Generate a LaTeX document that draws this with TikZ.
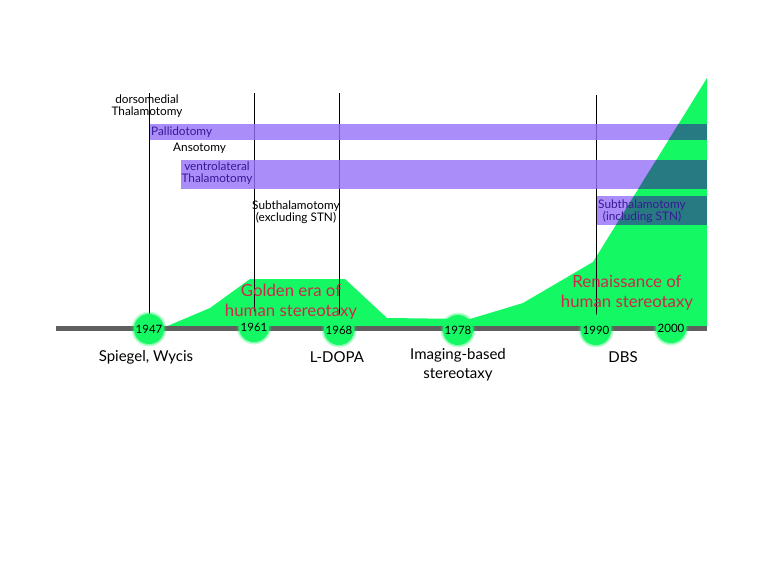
\documentclass[tikz,border=0pt]{standalone}
\usepackage{fontspec}
\setmainfont{Lato}
\usetikzlibrary{backgrounds}
\pgfdeclarelayer{lbg}
\pgfdeclarelayer{llines}
\pgfdeclarelayer{lbars}
\pgfsetlayers{lbg,llines,lbars,main}
\definecolor{grn}{RGB}{20,248,100}
\definecolor{purpbase}{RGB}{150,112,249}
\definecolor{tealc}{RGB}{40,122,130}
\definecolor{redt}{RGB}{205,40,75}
\definecolor{bartext}{RGB}{55,25,150}
\definecolor{axisgray}{RGB}{95,95,95}
\tikzset{
  yearcirc/.style={circle,fill=grn,minimum size=30pt,inner sep=0pt,font=\fontsize{11.5}{11.5}\selectfont},
  smalltxt/.style={font=\fontsize{11.8}{12.5}\selectfont,align=center,inner sep=0pt},
  bartxt/.style={smalltxt,text=bartext},
  bigtxt/.style={font=\fontsize{15}{19}\selectfont,align=center,inner sep=0pt},
  redtxt/.style={font=\fontsize{16.8}{20}\selectfont,align=center,inner sep=0pt,text=redt},
  vline/.style={black,line width=1pt},
  barfill/.style={fill=purpbase,fill opacity=0.8}
}
\begin{document}
\begin{tikzpicture}[x=1pt,y=-1pt]
\useasboundingbox (0,0) rectangle (779,584);
% green area
\begin{pgfonlayer}{lbg}
\fill[grn] (165,327) -- (210,308) -- (250,279) -- (345,279) -- (387,318) -- (470,319) -- (523,303) -- (593,262) -- (707,78) -- (707,327) -- cycle;
\end{pgfonlayer}
% bars
\begin{pgfonlayer}{lbars}
\fill[barfill] (150,124) rectangle (707,140);
\fill[barfill] (181,160) rectangle (707,189);
\fill[barfill] (597,196) rectangle (707,225);
\begin{scope}
\clip (165,327) -- (210,308) -- (250,279) -- (345,279) -- (387,318) -- (470,319) -- (523,303) -- (593,262) -- (707,78) -- (707,327) -- cycle;
\fill[tealc] (150,124) rectangle (707,140);
\fill[tealc] (181,160) rectangle (707,189);
\fill[tealc] (597,196) rectangle (707,225);
\end{scope}
\draw[axisgray,line width=5pt] (56,328) -- (707,328);
\end{pgfonlayer}
% year circles
\foreach \n/\x/\y in {1947/149/329,1961/254/327,1968/339/330,1978/458/330,1990/596/330,2000/671/328}{
  \fill[grn,opacity=0.25] (\x,\y) circle (17.5pt);
  \fill[grn,opacity=0.35] (\x,\y) circle (16.2pt);
  \node[yearcirc] (c\n) at (\x,\y) {\n};
}
\coordinate (t1947) at (149,93);
\coordinate (t1961) at (254,93);
\coordinate (t1968) at (339,93);
\coordinate (t1990) at (596,95);
\begin{pgfonlayer}{llines}
\draw[vline] (t1947) -- (c1947.center);
\draw[vline] (t1961) -- (c1961.center);
\draw[vline] (t1968) -- (c1968.center);
\draw[vline] (t1990) -- (c1990.center);
\end{pgfonlayer}
% labels
\node[smalltxt] (dors) at (147,106) {dorsomedial\\Thalamotomy};
\node[bartxt,anchor=west] (pall) at (151,132.5) {Pallidotomy};
\node[smalltxt,anchor=west] (anso) at (173,148) {Ansotomy};
\node[bartxt] (vent) at (217,173) {ventrolateral\\Thalamotomy};
\node[smalltxt] (subex) at (296,212) {Subthalamotomy\\(excluding STN)};
\node[bartxt] (subin) at (642,211) {Subthalamotomy\\(including STN)};
\node[redtxt] (golden) at (291,302) {Golden era of\\human stereotaxy};
\node[redtxt] (renai) at (627,293) {Renaissance of\\human stereotaxy};
\node[bigtxt] (spw) at (146,357) {Spiegel, Wycis};
\node[bigtxt] (ldopa) at (337,357) {L-DOPA};
\node[bigtxt] (imag) at (458,365) {Imaging-based\\stereotaxy};
\node[bigtxt] (dbs) at (623,357) {DBS};
\end{tikzpicture}
\end{document}
